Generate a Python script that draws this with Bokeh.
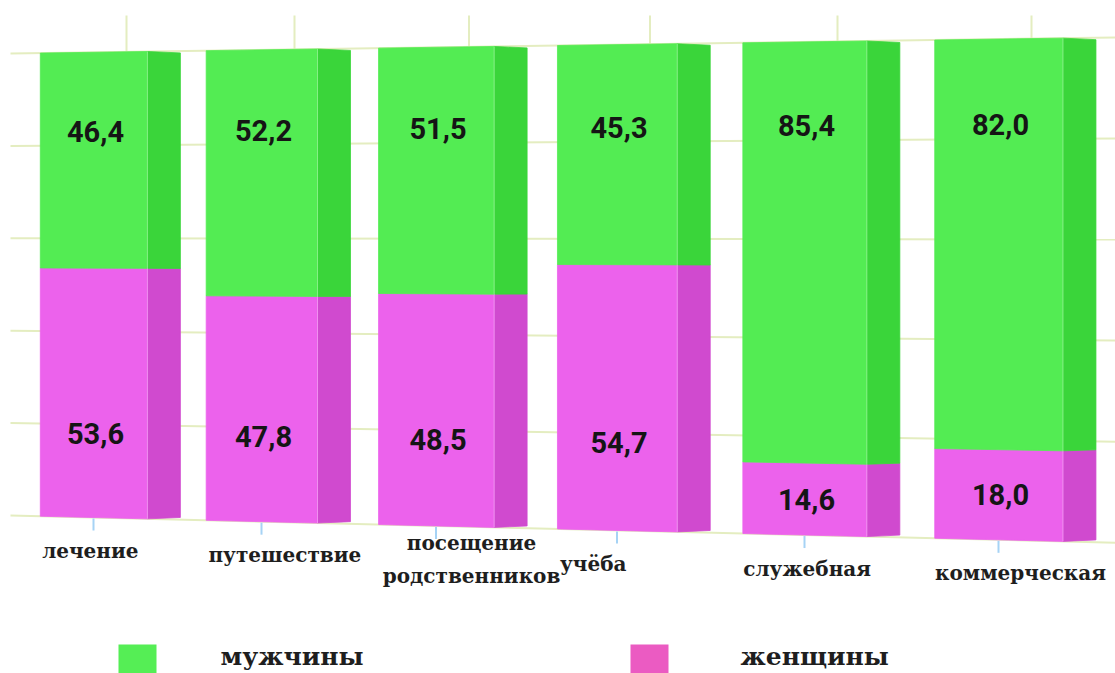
from bokeh.plotting import figure
from bokeh.models import Range1d
from bokeh.core.properties import value
from bokeh.embed import file_html
from bokeh.resources import INLINE

# ---------------- data ----------------
categories = ["лечение", "путешествие", "посещение родственников",
              "учёба", "служебная", "коммерческая"]
men = [46.4, 52.2, 51.5, 45.3, 85.4, 82.0]
women = [53.6, 47.8, 48.5, 54.7, 14.6, 18.0]
series_names = ["мужчины", "женщины"]
grid_values = [0, 20, 40, 60, 80, 100]

# ---------------- style ----------------
front_colors = {"мужчины": "#53EC53", "женщины": "#EC62EC"}
side_colors = {"мужчины": "#3AD53A", "женщины": "#D04ACF"}
legend_colors = {"мужчины": "#55EE55", "женщины": "#EB5BC2"}
GRID_COLOR = "#E4EDC0"
TICK_COLOR = "#A6D3F5"

# perspective projection of the 3D bar chart onto the page
X0, DX, CURV = 93.0, 168.0, 3.25     # horizontal placement of categories
HALF = 0.325                          # half front width (category units)
DEPTH = 33.0                          # side face depth (px)
FRAME_L, FRAME_W = 10.0, 1097.0


def sx(u):
    return X0 + DX * u + CURV * u * (u - 1)


def top_y(x):
    return 53.0 - 16.0 * (x - FRAME_L) / FRAME_W


def base_y(x):
    return 515.0 + 27.0 * (x - FRAME_L) / FRAME_W


def sy(v, x):
    b, t = base_y(x), top_y(x)
    return b - v / 100.0 * (b - t)


def far_y(v, x):
    mid = (sy(0, x) + sy(100, x)) / 2
    return mid + (sy(v, x) - mid) * 0.994


W, H = 1115, 673
p = figure(width=W, height=H, x_range=Range1d(0, W), y_range=Range1d(H, 0),
           output_backend="svg", toolbar_location=None,
           x_axis_type=None, y_axis_type=None,
           min_border=0, min_border_left=0, min_border_right=0,
           min_border_top=0, min_border_bottom=0)
p.grid.visible = False
p.outline_line_color = None
p.background_fill_color = "white"
p.border_fill_color = "white"

# horizontal grid lines (value axis)
gx0, gx1 = FRAME_L, W + 5
p.segment(x0=[gx0] * len(grid_values), y0=[sy(v, gx0) for v in grid_values],
          x1=[gx1] * len(grid_values), y1=[sy(v, gx1) for v in grid_values],
          line_color=GRID_COLOR, line_width=2)

# back-wall vertical grid lines
n = len(categories)
bx = [sx(i) + DEPTH for i in range(n)]
p.segment(x0=bx, y0=[15] * n, x1=bx, y1=[sy(10, x) for x in bx],
          line_color=GRID_COLOR, line_width=2)

# category ticks
tx = [sx(i) for i in range(n)]
p.segment(x0=tx, y0=[sy(0, x) + 1 for x in tx], x1=tx, y1=[sy(0, x) + 13 for x in tx],
          line_color=TICK_COLOR, line_width=2)

# bars
fxs, fys, fcol, sxs, sys_, scol = [], [], [], [], [], []
for i in range(n):
    xl, xr = sx(i - HALF), sx(i + HALF)
    xf = xr + DEPTH
    segs = [(0.0, women[i], "женщины"), (women[i], women[i] + men[i], "мужчины")]
    for v0, v1, s in segs:
        fxs.append([xl, xr, xr, xl])
        fys.append([sy(v0, xl), sy(v0, xr), sy(v1, xr), sy(v1, xl)])
        fcol.append(front_colors[s])
        sxs.append([xr, xf, xf, xr])
        sys_.append([sy(v0, xr), far_y(v0, xr), far_y(v1, xr), sy(v1, xr)])
        scol.append(side_colors[s])

p.patches(xs=sxs, ys=sys_, fill_color=scol, line_color=scol, line_width=0.8)
p.patches(xs=fxs, ys=fys, fill_color=fcol, line_color=fcol, line_width=0.8)

# front/side edge highlight
ex = [sx(i + HALF) for i in range(n)]
p.segment(x0=ex, y0=[sy(0, x) for x in ex], x1=ex, y1=[sy(100, x) for x in ex],
          line_color="white", line_alpha=0.3, line_width=1)


# value labels
def fmt(v):
    return f"{v:.1f}".replace(".", ",")


lx, ly, lt = [], [], []
for i in range(n):
    x = sx(i)
    v_low = min(women[i] / 2, 18.0)
    v_up = 100 - min(men[i] / 2, 17.0)
    lx += [x + 2, x + 2]
    ly += [sy(v_low, x), sy(v_up, x)]
    lt += [fmt(women[i]), fmt(men[i])]
p.text(x=lx, y=ly, text=lt, text_font=value("Roboto"), text_font_style="bold",
       text_font_size="29px", text_color="#151515", text_align="center",
       text_baseline="middle")

# category labels
CHAR_W = 14.3
cx, cy, ct = [], [], []
for i, c in enumerate(categories):
    xl = sx(i - HALF)
    lines = c.split(" ")
    est_w = max(len(s) for s in lines) * CHAR_W
    cx.append(xl + est_w / 2)
    cy.append(sy(0, xl) + 35)
    ct.append("\n".join(lines))
p.text(x=cx, y=cy, text=ct, text_font=value("DejaVu Serif"), text_font_style="bold",
       text_font_size="20px", text_color="#1E1E1E", text_align="center",
       text_baseline="middle", text_line_height=1.35)

# legend
leg_left = [118, 630]
leg_text_x = [220, 740]
p.quad(left=leg_left, right=[l + 38 for l in leg_left], top=[644, 644], bottom=[690, 690],
       fill_color=[legend_colors[s] for s in series_names], line_color=None)
p.text(x=leg_text_x, y=[656, 656], text=series_names, text_font=value("DejaVu Serif"),
       text_font_style="bold", text_font_size="25px", text_color="#1E1E1E",
       text_align="left", text_baseline="middle")

open("out.html", "w").write(file_html(p, INLINE))
